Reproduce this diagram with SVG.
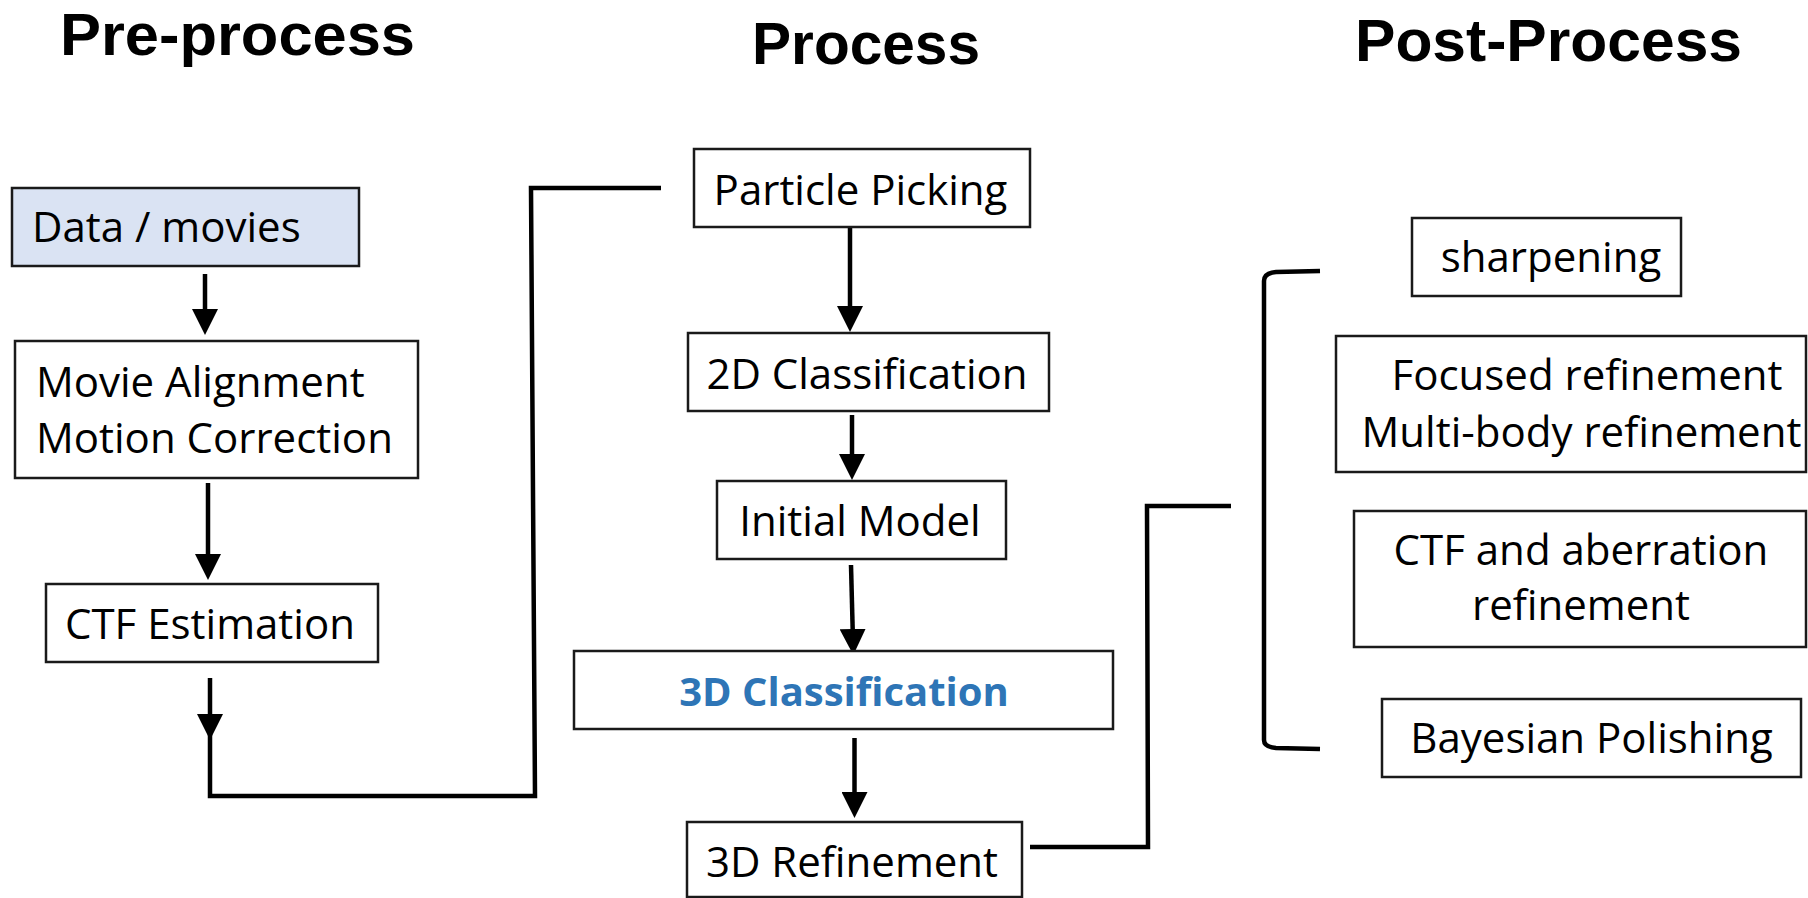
<svg xmlns="http://www.w3.org/2000/svg" width="1808" height="898" viewBox="0 0 1808 898">
  <style>
    .box { fill: #ffffff; stroke: #1a1a1a; stroke-width: 2.5; }
    .box-data { fill: #dae3f3; stroke: #1a1a1a; stroke-width: 2.5; }
    .label { font-family: "Open Sans", "Noto Sans", sans-serif; font-size: 42px; fill: #000000; }
    .label-em { font-family: "Open Sans", "Noto Sans", sans-serif; font-size: 40px; font-weight: bold; fill: #2e75b6; }
    .heading { font-family: "Liberation Sans", Arial, sans-serif; font-size: 59px; font-weight: bold; fill: #000000; }
    .arrow { stroke: #000000; stroke-width: 4.5; fill: none; marker-end: url(#head); }
    .link { stroke: #000000; stroke-width: 4.5; fill: none; }
  </style>
  <defs>
    <marker id="head" markerUnits="userSpaceOnUse" markerWidth="26" markerHeight="26" viewBox="0 0 26 26" refX="13" refY="13" orient="auto">
      <path d="M0,0 L26,13 L0,26 z" fill="#000000"/>
    </marker>
  </defs>

  <rect width="1808" height="898" fill="#ffffff"/>

  <!-- stage headings -->
  <g id="headings">
    <text class="heading" x="60" y="55" textLength="355" lengthAdjust="spacingAndGlyphs">Pre-process</text>
    <text class="heading" x="752" y="64" textLength="228" lengthAdjust="spacingAndGlyphs">Process</text>
    <text class="heading" x="1355" y="61" textLength="387" lengthAdjust="spacingAndGlyphs">Post-Process</text>
  </g>

  <!-- connectors -->
  <g id="connectors">
    <line class="arrow" x1="205" y1="274" x2="205" y2="322"/>
    <line class="arrow" x1="208" y1="483" x2="208" y2="567"/>
    <line class="arrow" x1="210" y1="678" x2="210" y2="727"/>
    <path class="link" d="M210,722 L210,796 L535,796 L531,188 L661,188"/>
    <line class="arrow" x1="850" y1="227" x2="850" y2="319"/>
    <line class="arrow" x1="852" y1="415" x2="852" y2="467"/>
    <line class="arrow" x1="851" y1="565" x2="853" y2="642"/>
    <line class="arrow" x1="854.5" y1="738" x2="854.5" y2="805"/>
    <path class="link" d="M1030,847 L1148,847 L1147,506 L1231,506"/>
    <path class="link" d="M1320,271 L1276,272 Q1264,273 1264,281 L1264,740 Q1264,747 1276,748 L1320,749"/>
  </g>

  <!-- pre-process column -->
  <g id="node-data">
    <rect class="box-data" x="12" y="188" width="347" height="78"/>
    <text class="label" x="32" y="242">Data / movies</text>
  </g>
  <g id="node-motion">
    <rect class="box" x="15" y="341" width="403" height="137"/>
    <text class="label" x="36" y="397">Movie Alignment</text>
    <text class="label" x="36" y="453">Motion Correction</text>
  </g>
  <g id="node-ctf">
    <rect class="box" x="46" y="584" width="332" height="78"/>
    <text class="label" x="210" y="639" text-anchor="middle">CTF Estimation</text>
  </g>

  <!-- process column -->
  <g id="node-picking">
    <rect class="box" x="694" y="149" width="336" height="78"/>
    <text class="label" x="860.5" y="205" text-anchor="middle">Particle Picking</text>
  </g>
  <g id="node-class2d">
    <rect class="box" x="688" y="333" width="361" height="78"/>
    <text class="label" x="867" y="389" text-anchor="middle">2D Classification</text>
  </g>
  <g id="node-initial">
    <rect class="box" x="717" y="481" width="289" height="78"/>
    <text class="label" x="860" y="536" text-anchor="middle">Initial Model</text>
  </g>
  <g id="node-class3d">
    <rect class="box" x="574" y="651" width="539" height="78"/>
    <text class="label-em" x="844" y="706" text-anchor="middle">3D Classification</text>
  </g>
  <g id="node-refine3d">
    <rect class="box" x="687" y="822" width="335" height="75"/>
    <text class="label" x="852" y="877" text-anchor="middle">3D Refinement</text>
  </g>

  <!-- post-process column -->
  <g id="node-sharpening">
    <rect class="box" x="1412" y="218" width="269" height="78"/>
    <text class="label" x="1551" y="272" text-anchor="middle">sharpening</text>
  </g>
  <g id="node-focused">
    <rect class="box" x="1336" y="336" width="470" height="136"/>
    <text class="label" x="1587" y="390" text-anchor="middle">Focused refinement</text>
    <text class="label" x="1581.5" y="447" text-anchor="middle">Multi-body refinement</text>
  </g>
  <g id="node-ctf-refine">
    <rect class="box" x="1354" y="511" width="452" height="136"/>
    <text class="label" x="1581" y="565" text-anchor="middle">CTF and aberration</text>
    <text class="label" x="1581" y="620" text-anchor="middle">refinement</text>
  </g>
  <g id="node-polishing">
    <rect class="box" x="1382" y="699" width="419" height="78"/>
    <text class="label" x="1591.5" y="753" text-anchor="middle">Bayesian Polishing</text>
  </g>
</svg>
